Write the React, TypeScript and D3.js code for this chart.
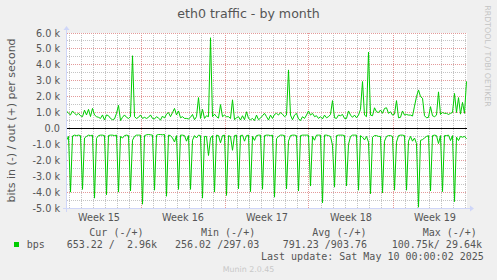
import React from 'react';
import * as d3 from 'd3';

// eth0 traffic, one sample every 4 hours, in kbit/s
const sampleStart = Date.UTC(2025, 3, 6, 19);
const sampleStepHours = 4;

// out (+), drawn above zero
const outKbps = [
  1.1, 0.95, 0.85, 1.1, 0.95, 0.85, 0.95, 0.8, 0.74, 1.15,
  0.85, 1.2, 0.75, 1.26, 0.85, 0.74, 0.7, 0.63, 0.85, 0.53,
  0.85, 0.8, 0.63, 0.55, 0.6, 0.95, 1.45, 0.5, 0.7, 0.85,
  0.7, 0.63, 0.74, 4.57, 0.74, 0.63, 0.7, 0.85, 0.63, 0.7,
  0.63, 0.7, 0.85, 0.63, 0.6, 0.74, 0.65, 0.53, 0.78, 0.65,
  0.9, 1.0, 0.74, 1.0, 1.26, 0.85, 1.1, 0.67, 0.74, 0.63,
  0.63, 0.6, 0.7, 0.88, 0.55, 0.74, 1.94, 0.63, 1.2, 0.63,
  0.8, 0.74, 5.7, 0.74, 0.9, 0.74, 0.65, 1.5, 0.74, 0.84,
  0.74, 0.74, 0.63, 1.8, 0.55, 0.67, 0.74, 0.53, 0.8, 0.55,
  1.05, 0.63, 0.55, 0.63, 0.5, 0.84, 0.55, 0.65, 0.8, 0.95,
  0.74, 0.53, 0.84, 0.63, 0.88, 0.95, 0.84, 1.0, 0.9, 0.74,
  0.84, 3.68, 0.84, 0.55, 0.84, 0.95, 0.6, 0.5, 0.74, 0.63,
  0.84, 1.1, 0.84, 0.95, 0.74, 0.8, 0.63, 0.74, 0.6, 0.84,
  0.67, 0.74, 0.88, 1.75, 0.67, 0.63, 0.84, 0.8, 0.88, 0.63,
  0.63, 1.1, 0.84, 0.7, 0.84, 0.67, 0.84, 1.2, 2.95, 0.84,
  0.74, 4.8, 0.84, 0.8, 1.3, 1.05, 1.0, 1.16, 0.95, 1.26,
  1.3, 0.95, 1.05, 0.84, 0.9, 1.75, 0.67, 0.7, 1.1, 0.84,
  0.88, 0.84, 0.84, 0.78, 1.4, 2.0, 2.42, 2.0, 1.9, 0.8,
  0.67, 0.7, 1.37, 0.8, 0.74, 0.84, 2.3, 0.88, 1.0, 0.95,
  0.95, 0.88, 0.95, 1.0, 2.2, 1.0, 1.94, 0.9, 1.64, 0.95, 2.96,
];

// in (-), drawn below zero
const inKbps = [
  0.74, 0.5, 4.0, 0.48, 0.42, 0.45, 0.42, 0.45, 3.83, 0.6,
  0.5, 0.42, 0.45, 0.42, 4.38, 0.62, 0.45, 0.42, 0.42, 0.45,
  4.17, 0.44, 0.42, 0.42, 0.45, 0.42, 4.0, 0.5, 0.6, 0.45,
  0.42, 0.45, 3.92, 0.74, 0.5, 0.42, 0.42, 0.42, 4.76, 0.45,
  0.4, 0.38, 0.4, 0.42, 3.88, 0.42, 0.38, 0.38, 0.4, 0.38,
  4.26, 0.42, 0.45, 0.6, 0.85, 0.45, 3.83, 0.42, 0.42, 0.45,
  0.8, 0.45, 3.83, 0.74, 0.45, 0.6, 0.42, 0.45, 4.38, 0.5,
  0.5, 1.7, 0.6, 0.45, 4.0, 0.42, 0.45, 0.9, 0.45, 0.42,
  4.21, 0.45, 0.5, 1.37, 0.45, 0.42, 3.79, 0.45, 0.42, 0.8,
  0.45, 0.42, 3.97, 0.5, 0.75, 0.45, 0.42, 0.42, 3.82, 0.45,
  0.42, 0.42, 0.45, 0.42, 4.32, 0.65, 0.5, 0.42, 0.42, 0.45,
  3.8, 0.8, 0.45, 0.42, 0.42, 0.45, 3.93, 0.45, 0.42, 0.42,
  0.42, 0.42, 3.62, 0.5, 0.74, 0.42, 0.42, 0.42, 4.68, 0.42,
  0.42, 0.45, 0.5, 1.05, 3.69, 0.45, 0.42, 0.42, 0.42, 0.45,
  3.62, 1.0, 0.5, 0.42, 0.42, 0.42, 3.88, 0.45, 0.55, 0.72,
  0.5, 0.86, 4.1, 0.55, 0.45, 0.45, 0.5, 0.5, 4.05, 0.8,
  0.5, 0.45, 0.45, 0.5, 3.88, 0.86, 0.45, 0.42, 0.42, 0.45,
  3.88, 0.8, 0.5, 0.8, 0.6, 0.95, 4.95, 0.75, 0.7, 0.6,
  0.5, 0.45, 3.93, 0.45, 0.42, 0.45, 0.95, 0.45, 3.97, 0.45,
  0.45, 0.42, 0.76, 0.45, 4.6, 0.55, 0.76, 0.5, 0.55, 0.5, 0.65,
];

const legendHeaders = ['Cur (-/+)', 'Min (-/+)', 'Avg (-/+)', 'Max (-/+)'];
const legendValues = ['653.22 /  2.96k', '256.02 /297.03', '791.23 /903.76', '100.75k/ 29.64k'];
const lastUpdate = 'Last update: Sat May 10 00:00:02 2025';

const fontColor = '#555';
const axisColor = '#CFD6F8';
const lineColor = '#00CC00';

const App = () => {
  const left = 66.5, right = 466.5, top = 33, bottom = 208;

  const t0 = new Date(sampleStart);
  const t1 = new Date(sampleStart + (outKbps.length - 1) * sampleStepHours * 3600e3);
  const timeOf = (i: number) => new Date(sampleStart + i * sampleStepHours * 3600e3);

  const x = d3.scaleUtc().domain([t0, t1]).range([left, right]);
  const y = d3.scaleLinear().domain([-5, 6]).range([bottom, top]);

  const px = (v: number) => Math.floor(v) + 0.5;

  const days = d3.utcDay.range(t0, t1);
  const sundays = d3.utcSunday.range(t0, t1);
  const weeks = d3.utcSunday
    .range(d3.utcSunday.floor(t0), t1)
    .map((d) => d3.utcHour.offset(d, 84))
    .filter((m) => m > t0 && m < t1);

  const minorY = y.ticks(22).filter((v) => !Number.isInteger(v));
  const majorY = y.ticks(11);

  const line = d3
    .line<number>()
    .x((_, i) => x(timeOf(i)))
    .y((d) => y(d));

  const fmt = (v: number) => (v === 0 ? '0.0' : `${v.toFixed(1)} k`);
  const legendX = [66.7, 175, 282.7, 391.7];
  const headerX = [89.3, 201, 312.3, 422.7];
  const pre = { whiteSpace: 'pre' as const };

  return (
    <svg
      width={497}
      height={280}
      style={{ position: 'absolute', left: 0, top: 0, background: '#F0F0F0' }}
      fontFamily="'DejaVu Sans', sans-serif"
    >
      <rect x={0} y={0} width={497} height={280} fill="#F0F0F0" />
      <rect x={67} y={top} width={400} height={bottom - top} fill="#fff" />

      {/* minor grid */}
      <g stroke="#c4c4c4" strokeDasharray="1,1" strokeWidth={1}>
        {days.map((d) => (
          <line key={+d} x1={px(x(d))} x2={px(x(d))} y1={top} y2={bottom} />
        ))}
        {minorY.map((v) => (
          <line key={v} x1={67} x2={467} y1={px(y(v))} y2={px(y(v))} />
        ))}
      </g>
      {/* major grid */}
      <g stroke="#e39a9a" strokeDasharray="1,1" strokeWidth={1}>
        {sundays.map((d) => (
          <line key={+d} x1={px(x(d))} x2={px(x(d))} y1={top} y2={bottom} />
        ))}
        {majorY.map((v) => (
          <line key={v} x1={67} x2={467} y1={px(y(v))} y2={px(y(v))} />
        ))}
      </g>

      {/* traffic */}
      <path d={line(outKbps) || ''} fill="none" stroke={lineColor} strokeWidth={1} />
      <path d={line(inKbps.map((v) => -v)) || ''} fill="none" stroke={lineColor} strokeWidth={1} />

      {/* zero rule */}
      <line x1={67} x2={467} y1={px(y(0))} y2={px(y(0))} stroke="#000" strokeWidth={1} />

      {/* axes */}
      <line x1={63} x2={470} y1={px(bottom)} y2={px(bottom)} stroke={axisColor} />
      <path d={`M470,${bottom - 2.5} L474,${bottom + 0.5} L470,${bottom + 3.5} Z`} fill={axisColor} />
      <line x1={px(66)} x2={px(66)} y1={212} y2={30} stroke={axisColor} />
      <path d={`M63.5,30 L66.5,26 L69.5,30 Z`} fill={axisColor} />

      {/* y ticks */}
      <g fontSize={9.7} fill={fontColor} textAnchor="end">
        {majorY.map((v) => (
          <text key={v} x={60} y={y(v) + 3.5}>
            {fmt(v)}
          </text>
        ))}
      </g>
      {/* week labels */}
      <g fontSize={9.7} fill={fontColor} textAnchor="middle">
        {weeks.map((m) => (
          <text key={+m} x={x(m)} y={221.3}>
            {`Week ${d3.utcFormat('%V')(m)}`}
          </text>
        ))}
      </g>

      <text x={248.5} y={18.3} fontSize={12.6} fill={fontColor} textAnchor="middle">
        eth0 traffic - by month
      </text>
      <text
        transform="translate(15,120.5) rotate(-90)"
        fontSize={11}
        fill={fontColor}
        textAnchor="middle"
      >
        bits in (-) / out (+) per second
      </text>
      <text
        transform="translate(484.5,56) rotate(90)"
        fontSize={7.9}
        fill="#c4c4c4"
        textAnchor="middle"
      >
        RRDTOOL / TOBI OETIKER
      </text>

      {/* legend */}
      <g fontFamily="'DejaVu Sans Mono', monospace" fontSize={10} fill={fontColor}>
        {legendHeaders.map((h, i) => (
          <text key={h} x={headerX[i]} y={236.3} xmlSpace="preserve" style={pre}>
            {h}
          </text>
        ))}
        <rect x={14} y={242} width={5} height={5} fill={lineColor} />
        <text x={26.7} y={248.3}>bps</text>
        {legendValues.map((v, i) => (
          <text key={i} x={legendX[i]} y={248.3} xmlSpace="preserve" style={pre}>
            {v}
          </text>
        ))}
        <text x={261} y={260} xmlSpace="preserve" style={pre}>
          {lastUpdate}
        </text>
      </g>
      <text x={248.5} y={272.2} fontSize={7.9} fill="#c8c8c8" textAnchor="middle">
        Munin 2.0.45
      </text>
    </svg>
  );
};

export default App;
